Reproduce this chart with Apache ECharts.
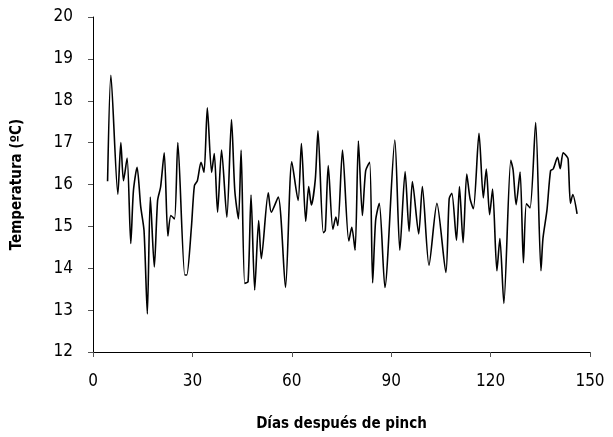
<!DOCTYPE html>
<html>
<head>
<meta charset="utf-8">
<script src="https://cdn.jsdelivr.net/npm/echarts@6/dist/echarts.min.js"></script>
<style>
html, body { margin: 0; padding: 0; background: #fff; }
#chart { width: 613px; height: 437px; }
</style>
</head>
<body>
<div id="chart"></div>
<script>
// dias y temperaturas
var dias = [4.4, 5.4, 7.5, 8.4, 9.2, 10.3, 11.4, 12.2, 13.3, 14.4, 15.4, 16.4, 17.3, 18.5, 19.5, 20.4,
    21.5, 22.6, 23.5, 24.6, 25.6, 27.7, 28.3, 29.7, 30.6, 31.5, 32.6, 33.5, 34.5, 35.8, 36.6, 37.6,
    38.8, 40.4, 41.8, 42.8, 43.9, 44.7, 45.8, 46.8, 47.7, 48.8, 50.0, 50.8, 52.9, 53.8, 55.9, 58.1,
    60.0, 61.9, 62.9, 64.2, 65.1, 65.9, 67.1, 67.9, 69.5, 70.1, 71.0, 72.4, 73.3, 73.9, 75.3, 77.2,
    78.1, 79.1, 80.1, 81.3, 82.3, 83.5, 84.4, 85.3, 86.4, 88.1, 91.1, 92.6, 94.2, 95.4, 96.4, 98.3,
    99.4, 101.4, 103.8, 106.5, 107.5, 108.3, 109.7, 110.6, 111.7, 112.8, 113.8, 114.8, 116.5, 117.8,
    118.7, 119.7, 120.6, 121.9, 122.8, 124.0, 126.1, 126.8, 127.7, 128.9, 129.9, 130.8, 131.9, 133.6,
    135.2, 135.8, 137.0, 138.1, 138.9, 140.2, 141.0, 141.9, 142.9, 143.4, 144.1, 144.8, 146.1];
var temperatura = [16.08, 18.61, 15.77, 17.0, 16.09, 16.63, 14.59, 15.85, 16.41, 15.47, 14.9, 12.91, 15.7, 14.03, 15.62, 15.94,
    16.76, 14.77, 15.26, 15.18, 17.0, 13.84, 13.84, 14.98, 15.97, 16.09, 16.53, 16.29, 17.83, 16.29, 16.74, 15.34,
    16.82, 15.22, 17.55, 15.85, 15.18, 16.82, 13.64, 13.68, 15.75, 13.48, 15.14, 14.23, 15.8, 15.34, 15.7, 13.54,
    16.54, 15.62, 16.98, 15.12, 15.95, 15.51, 16.13, 17.28, 14.85, 14.9, 16.45, 14.93, 15.22, 15.02, 16.82, 14.65,
    14.98, 14.43, 17.04, 15.26, 16.33, 16.53, 13.65, 15.14, 15.55, 13.54, 17.06, 14.43, 16.31, 14.88, 16.07, 14.82,
    15.95, 14.07, 15.55, 13.9, 15.66, 15.79, 14.67, 15.95, 14.61, 16.25, 15.66, 15.42, 17.22, 15.68,
    16.37, 15.28, 15.89, 13.94, 14.71, 13.16, 16.58, 16.34, 15.52, 16.3, 14.13, 15.54, 15.44, 17.48,
    13.94, 14.71, 15.38, 16.33, 16.37, 16.65, 16.38, 16.76, 16.68, 16.61, 15.55, 15.76, 15.3];

var fuente = "'Liberation Sans Narrow', 'DejaVu Sans Condensed', sans-serif";
var serie = [];
for (var i = 0; i < dias.length; i++) {
    serie.push([dias[i], temperatura[i]]);
}

var chart = echarts.init(document.getElementById('chart'));
var option = {
    animation: false,
    backgroundColor: '#ffffff',
    grid: { left: 93, right: 23, top: 17, bottom: 83 },
    xAxis: {
        type: 'value', min: 0, max: 150, interval: 30,
        name: 'Días después de pinch', nameLocation: 'middle', nameGap: 65,
        nameTextStyle: { fontFamily: fuente, fontSize: 15, fontWeight: 'bold', color: '#000' },
        axisLine: { lineStyle: { color: '#000', width: 1 } },
        axisTick: { inside: false, length: 5, lineStyle: { color: '#555' } },
        axisLabel: { margin: 21, fontFamily: fuente, fontSize: 17, color: '#000' },
        splitLine: { show: false }
    },
    yAxis: {
        type: 'value', min: 12, max: 20, interval: 1,
        name: 'Temperatura (ºC)', nameLocation: 'middle', nameGap: 68, nameRotate: 90,
        nameTextStyle: { fontFamily: fuente, fontSize: 15, fontWeight: 'bold', color: '#000' },
        axisLine: { show: true, lineStyle: { color: '#000', width: 1 } },
        axisTick: { show: true, inside: false, length: 5, lineStyle: { color: '#555' } },
        axisLabel: { margin: 20, fontFamily: fuente, fontSize: 17, color: '#000' },
        splitLine: { show: false }
    },
    series: [{
        type: 'line',
        data: serie,
        showSymbol: false,
        smooth: 0.25,
        lineStyle: { color: '#000', width: 1.6 }
    }]
};
chart.setOption(option);
</script>
</body>
</html>
